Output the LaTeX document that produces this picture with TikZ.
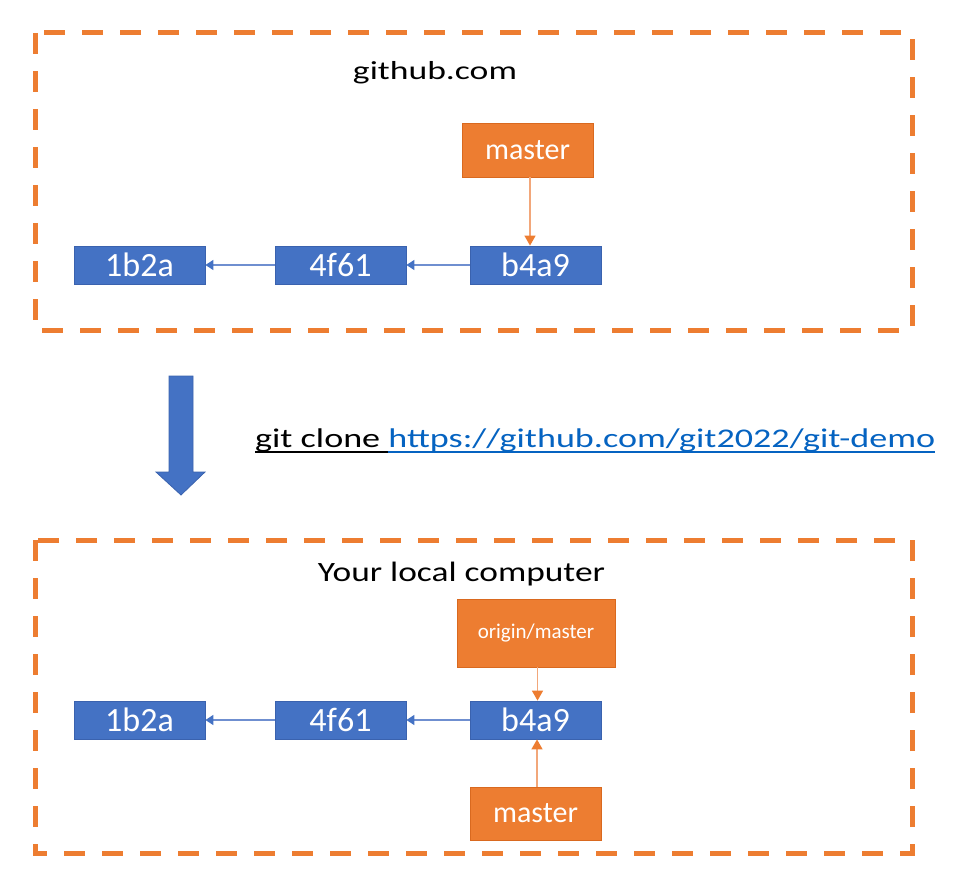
\documentclass[tikz,border=0pt]{standalone}
\usepackage{fontspec}
\setmainfont{Carlito}
\usetikzlibrary{arrows.meta,calc}
\definecolor{offorange}{HTML}{ED7D31}
\definecolor{orangeedge}{HTML}{D9691F}
\definecolor{offblue}{HTML}{4472C4}
\definecolor{blueedge}{HTML}{3A62AE}
\definecolor{linkblue}{HTML}{0563C1}
\definecolor{lineblue}{HTML}{6F8FD0}
\definecolor{lineorange}{HTML}{F2A77A}
\tikzset{
  region/.style={draw=offorange, line width=5pt, dash pattern=on 21pt off 17pt},
  commit/.style={rectangle, fill=offblue, draw=blueedge, line width=0.8pt, text=white,
    minimum width=131pt, minimum height=38pt, inner sep=0pt, font=\fontsize{34}{36}\selectfont},
  branch/.style={rectangle, fill=offorange, draw=orangeedge, line width=0.8pt, text=white,
    minimum width=131pt, minimum height=54pt, inner sep=0pt, font=\fontsize{30}{32}\selectfont},
  parentarrow/.style={draw=lineblue, line width=1.5pt, -{Triangle[width=10pt,length=8pt,color=offblue]}},
  refarrow/.style={draw=lineorange, line width=1.5pt, -{Triangle[width=11pt,length=10pt,color=offorange]}},
  title/.style={inner sep=0pt, anchor=base, text=black}
}
\begin{document}
\begin{tikzpicture}[x=1pt,y=-1pt]
\useasboundingbox (0,0) rectangle (973,882);

% regions
\draw[region] (35,33) rectangle (912,330);
\draw[region] (35,540) rectangle (912,853);

% top: github.com
\node[title] (t1) at (435,80) {\resizebox{164pt}{\height}{\fontsize{26}{28}\selectfont github.com}};
\node[branch] (gm) at (527.5,150) {master};
\node[commit] (ga) at (139.5,265) {1b2a};
\node[commit] (gb) at (340.5,265) {4f61};
\node[commit] (gc) at (535.5,265) {b4a9};
\draw[parentarrow] (gb.west) -- (ga.east);
\draw[parentarrow] (gc.west) -- (gb.east);
\draw[refarrow] ([xshift=2.5pt]gm.south) -- ([xshift=2.5pt]gm.south |- gc.north);

% clone arrow
\fill[offblue, draw=blueedge, line width=0.8pt]
  (169,376) -- (193,376) -- (193,472) -- (205,472) -- (181,495) -- (156,472) -- (169,472) -- cycle;

% command text
\node[inner sep=0pt, anchor=base west] (cmd) at (255,447)
  {\resizebox{680pt}{\height}{\fontsize{27}{29}\selectfont\color{black}git clone \color{linkblue}https://github.com/git2022/git-demo}};
\coordinate (split) at ($(cmd.base west)!0.195!(cmd.base east)$);
\draw[black, line width=2pt] ($(cmd.base west)+(0,5)$) -- ($(split)+(0,5)$);
\draw[linkblue, line width=2pt] ($(split)+(0,5)$) -- ($(cmd.base east)+(0,5)$);

% bottom: local computer
\node[title] (t2) at (461.5,581) {\resizebox{287pt}{\height}{\fontsize{28}{30}\selectfont Your local computer}};
\node[branch, minimum width=158pt, minimum height=68pt, font=\fontsize{21}{23}\selectfont] (om) at (536,633) {origin/master};
\node[commit] (la) at (139.5,720) {1b2a};
\node[commit] (lb) at (340.5,720) {4f61};
\node[commit] (lc) at (535.5,720) {b4a9};
\node[branch, minimum height=53pt] (lm) at (535.5,813.5) {master};
\draw[parentarrow] (lb.west) -- (la.east);
\draw[parentarrow] (lc.west) -- (lb.east);
\draw[refarrow] ([xshift=1.5pt]om.south) -- ([xshift=1.5pt]om.south |- lc.north);
\draw[refarrow] ([xshift=1.5pt]lm.north) -- ([xshift=1.5pt]lm.north |- lc.south);
\end{tikzpicture}
\end{document}
